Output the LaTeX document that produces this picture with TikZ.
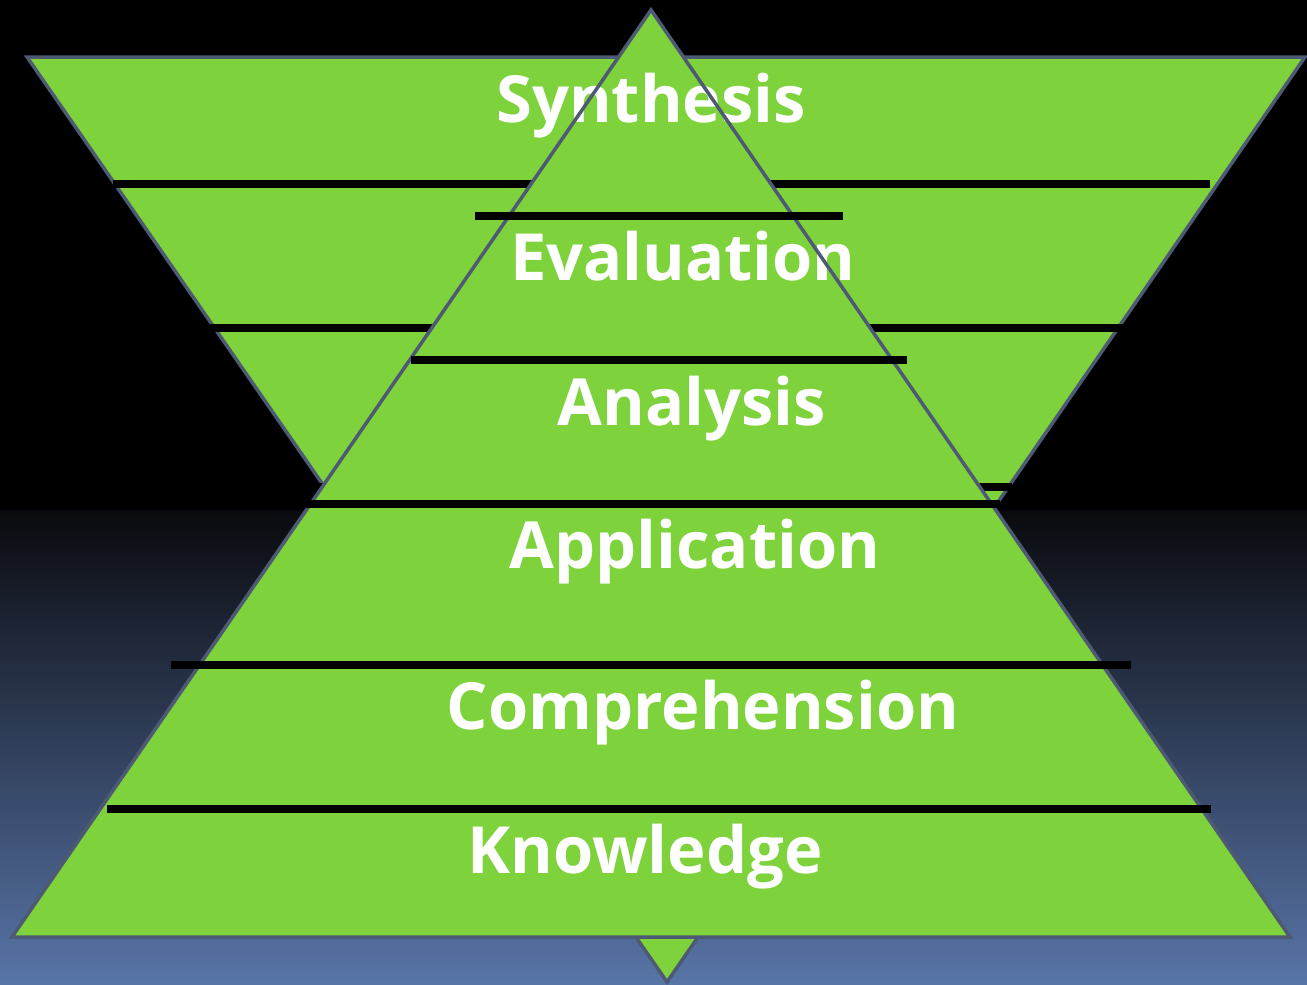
\documentclass[tikz,border=0pt]{standalone}
\usepackage{fontspec}
\setsansfont{Open Sans}
\definecolor{tgreen}{RGB}{126,210,59}
\definecolor{tedge}{RGB}{78,90,115}
\definecolor{bgtop}{RGB}{10,10,14}
\definecolor{bgbot}{RGB}{88,117,168}
\tikzset{
  tri/.style={fill=tgreen},
  triedge/.style={draw=tedge, line width=3.5pt, line join=miter},
  bar/.style={draw=black, line width=7.5pt},
  lbl/.style={text=white, font=\sffamily\bfseries\fontsize{65}{65}\selectfont, anchor=base, inner sep=0pt}
}
\begin{document}
\begin{tikzpicture}[x=1pt,y=-1pt]
\useasboundingbox (0,0) rectangle (1307,985);
% background
\fill[black] (0,0) rectangle (1307,511);
\shade[top color=bgtop, bottom color=bgbot] (0,510) rectangle (1307,985);
% inverted triangle
\coordinate (i1) at (27,57);
\coordinate (i2) at (1305,57);
\coordinate (i3) at (667,982);
\filldraw[tri, triedge] (i1) -- (i2) -- (i3) -- cycle;
\draw[bar] (113,184) -- (1210,184);
\draw[bar] (210,328) -- (1123,328);
\draw[bar] (310,487) -- (1012,487);
% upright triangle
\coordinate (u1) at (651,10);
\coordinate (u2) at (1290,937);
\coordinate (u3) at (12,937);
\fill[tri] (u1) -- (u2) -- (u3) -- cycle;
% labels
\node[lbl] (syn) at (651,122) {Synthesis};
\node[lbl] (eva) at (683,280) {Evaluation};
\node[lbl] (ana) at (692,425) {Analysis};
\node[lbl] (app) at (695,568) {Application};
\node[lbl] (com) at (703,729) {Comprehension};
\node[lbl] (kno) at (645,873) {Knowledge};
\draw[triedge] (u1) -- (u2) -- (u3) -- cycle;
% bars over upright triangle
\draw[bar] (475,216) -- (843,216);
\draw[bar] (411,360) -- (907,360);
\draw[bar] (305,504) -- (1000,504);
\draw[bar] (171,665) -- (1131,665);
\draw[bar] (107,809) -- (1211,809);
\end{tikzpicture}
\end{document}
